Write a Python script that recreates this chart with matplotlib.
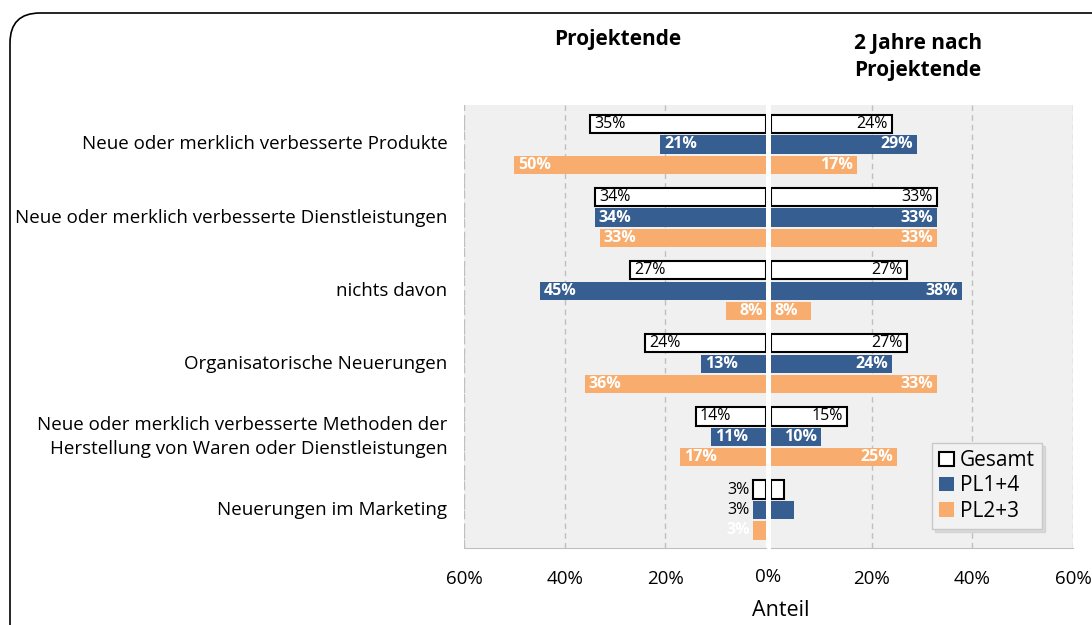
import matplotlib
matplotlib.use("Agg")
import matplotlib.pyplot as plt
from matplotlib.patches import Patch, FancyBboxPatch
from matplotlib.transforms import IdentityTransform

plt.rcParams['font.family'] = ['Open Sans', 'DejaVu Sans']

categories = [
    "Neue oder merklich verbesserte Produkte",
    "Neue oder merklich verbesserte Dienstleistungen",
    "nichts davon",
    "Organisatorische Neuerungen",
    "Neue oder merklich verbesserte Methoden der\nHerstellung von Waren oder Dienstleistungen",
    "Neuerungen im Marketing",
]
series = ["Gesamt", "PL1+4", "PL2+3"]

# Projektende (left half)
end_gesamt = [35, 34, 27, 24, 14, 2.6]
end_pl14 = [21, 34, 45, 13, 11, 2.6]
end_pl23 = [50, 33, 8, 36, 17, 2.6]
# 2 Jahre nach Projektende (right half)
after_gesamt = [24, 33, 27, 27, 15, 2.6]
after_pl14 = [29, 33, 38, 24, 10, 4.5]
after_pl23 = [17, 33, 8, 33, 25, 0]

blue = "#365E90"
orange = "#F8AD6E"
bg = "#F0F0F0"
grid_c = "#BFBFBF"

fig = plt.figure(figsize=(10.92, 6.25), dpi=100)

# rounded frame around the chart
frame = FancyBboxPatch((10, -60), 1120, 672, boxstyle="round,pad=0,rounding_size=30",
                       transform=IdentityTransform(), facecolor="none",
                       edgecolor="black", linewidth=1.2, clip_on=False)
fig.patches.append(frame)

ax_l = fig.add_axes([464 / 1092, 1 - 548 / 625, 302 / 1092, 443 / 625])
ax_r = fig.add_axes([771 / 1092, 1 - 548 / 625, 302 / 1092, 443 / 625])

offsets = [-0.28, 0.0, 0.28]
bar_h = 0.25
lab_fs = 11.5


def draw_half(ax, vals_list, left):
    ax.set_facecolor(bg)
    ax.set_xlim((60, 0) if left else (0, 60))
    ax.set_ylim(5.52, -0.54)
    for s in ax.spines.values():
        s.set_visible(False)
    ax.spines['bottom'].set_visible(True)
    ax.spines['bottom'].set_color(grid_c)
    for x in (20, 40, 60):
        ax.axvline(x, color=grid_c, linestyle=(0, (4, 3)), linewidth=1, zorder=0.5)
    ax.set_yticks([])
    ax.set_xticks([20, 40, 60])
    ax.set_xticklabels(["20%", "40%", "60%"], fontsize=13.5)
    ax.tick_params(axis='x', length=0, pad=16)

    colors = ["white", blue, orange]
    for k, vals in enumerate(vals_list):
        ys = [i + offsets[k] for i in range(len(vals))]
        if k == 0:
            ax.barh(ys, vals, height=bar_h, color="white", edgecolor="black",
                    linewidth=1.5, zorder=2)
        else:
            ax.barh(ys, vals, height=bar_h, color=colors[k], zorder=2)
        for y, v in zip(ys, vals):
            if v <= 0:
                continue
            txt = f"{v:.0f}%"
            tcol = "black" if k == 0 else "white"
            weight = "normal" if k == 0 else "bold"
            if v < 5:
                if not left:
                    continue
                # outside the bar end
                if k == 0 or k == 1:
                    tcol = "black"
                    weight = "normal"
                ax.text(v + 0.6, y, txt, ha="right", va="center", fontsize=lab_fs,
                        color=tcol, fontweight=weight, zorder=3)
            elif v < 10:
                ax.text(0.6, y, txt, ha="right" if left else "left", va="center",
                        fontsize=lab_fs, color=tcol, fontweight=weight, zorder=3)
            else:
                ax.text(v - 0.8, y, txt, ha="left" if left else "right", va="center",
                        fontsize=lab_fs, color=tcol, fontweight=weight, zorder=3)


draw_half(ax_l, [end_gesamt, end_pl14, end_pl23], True)
draw_half(ax_r, [after_gesamt, after_pl14, after_pl23], False)

ax_l.axvline(60, color=grid_c, linestyle=(0, (4, 3)), linewidth=1.5, zorder=0.5)

# category labels
for i, c in enumerate(categories):
    ax_l.text(-0.055, i, c, transform=ax_l.get_yaxis_transform(),
              ha="right", va="center", fontsize=13.5, linespacing=1.45)

fig.text(768 / 1092, 1 - 577 / 625, "0%", ha="center", va="center", fontsize=13.5)
fig.text(781 / 1092, 1 - 610 / 625, "Anteil", ha="center", va="center", fontsize=15.5)

fig.text(618 / 1092, 1 - 40 / 625, "Projektende", ha="center", va="center",
         fontsize=15, fontweight="bold")
fig.text(918 / 1092, 1 - 57 / 625, "2 Jahre nach\nProjektende", ha="center",
         va="center", fontsize=15, fontweight="bold", linespacing=1.35)

handles = [Patch(facecolor="white", edgecolor="black", linewidth=1.5),
           Patch(facecolor=blue), Patch(facecolor=orange)]
leg = fig.legend(handles, series, loc="upper left",
                 bbox_to_anchor=(932 / 1092, 1 - 443 / 625), fontsize=15,
                 frameon=True, fancybox=False, shadow={'color': '#aaaaaa', 'alpha': 0.3},
                 handlelength=0.7, handleheight=0.7, handletextpad=0.3,
                 labelspacing=0.2, borderpad=0.35, borderaxespad=0)
leg.get_frame().set_facecolor("#F2F2F2")
leg.get_frame().set_edgecolor("#C8C8C8")
leg.get_frame().set_alpha(1)

fig.savefig("out.png", dpi=100)
